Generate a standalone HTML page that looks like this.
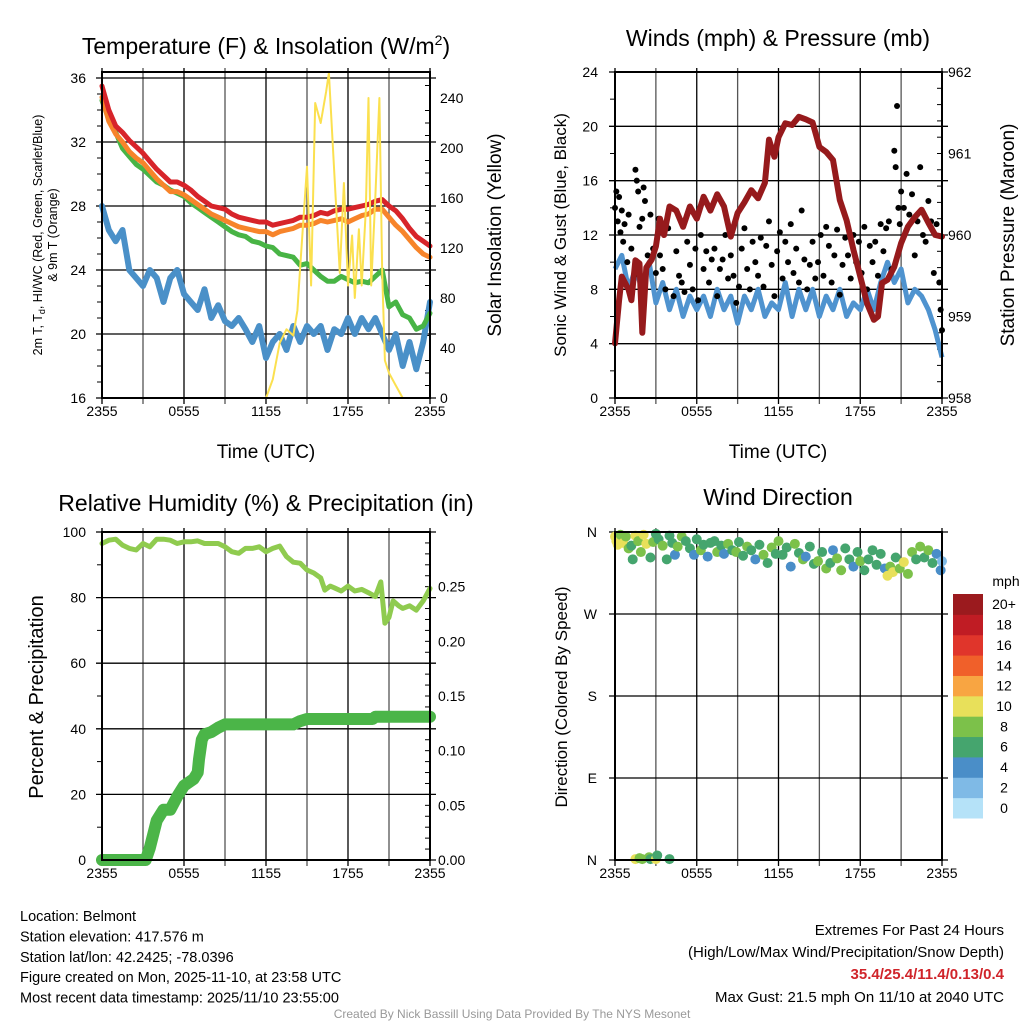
<!DOCTYPE html>
<html><head><meta charset="utf-8">
<style>
html,body{margin:0;padding:0;background:#fff;}
svg{display:block;font-family:"Liberation Sans",sans-serif;}
</style></head>
<body>
<svg id="chart" width="1024" height="1024" viewBox="0 0 1024 1024" xmlns="http://www.w3.org/2000/svg">
<rect x="0" y="0" width="1024" height="1024" fill="#fff"/>
</svg>
<script>
// ---------- DATA ----------
const tempHours = [0,0.5,1,1.5,2,2.5,3,3.5,4,4.5,5,5.5,6,6.5,7,7.5,8,8.5,9,9.5,10,10.5,11,11.5,12,12.5,13,13.5,14,14.5,15,15.5,16,16.5,17,17.5,18,18.5,19,19.5,20,20.5,21,21.5,22,22.5,23,23.5,24];
const tempRed = [35.5,34.0,33.0,32.6,32.1,31.7,31.3,30.8,30.3,29.9,29.5,29.5,29.3,29.0,28.6,28.3,28.0,27.9,27.8,27.5,27.3,27.2,27.1,27.0,27.0,26.8,26.9,27.0,27.1,27.3,27.3,27.4,27.6,27.5,27.7,27.8,27.8,27.9,28.0,28.1,28.3,28.4,28.0,27.7,27.2,26.6,26.1,25.8,25.5];
const tempOrange = [34.8,33.3,32.5,32.0,31.4,31.0,30.7,30.2,29.7,29.3,28.9,28.9,28.7,28.4,28.1,27.8,27.5,27.3,27.1,26.9,26.7,26.6,26.5,26.4,26.4,26.2,26.4,26.5,26.6,26.8,26.8,26.9,27.1,27.0,27.1,27.2,27.0,27.2,27.4,27.5,27.8,27.8,27.3,26.8,26.4,25.9,25.4,25.0,24.8];
const tempGreen = [34.6,33.4,32.6,31.6,31.1,30.6,30.3,29.9,29.5,29.3,29.0,28.8,28.6,28.2,27.9,27.6,27.3,27.0,26.7,26.4,26.2,26.1,25.8,25.7,25.5,25.4,25.0,24.9,24.8,24.3,24.4,24.0,23.6,23.3,23.3,23.6,23.4,23.2,23.3,23.2,23.6,24.0,21.7,22.0,21.2,21.0,20.3,20.5,21.3];
const tempBlue = [28.0,26.5,25.8,26.5,24.0,23.5,23.0,24.0,23.5,22.0,23.5,24.0,22.5,22.0,21.5,22.8,21.0,21.8,20.8,20.5,21.0,20.3,19.5,20.5,18.5,19.5,20.0,19.0,20.5,19.5,20.5,20.0,20.5,19.0,20.3,20.0,21.0,20.0,21.0,20.3,21.0,20.0,19.0,20.0,18.0,19.5,17.8,19.5,22.0];
const solarHours = [0,12,12.5,13,13.5,14,14.3,14.5,15,15.3,15.6,16,16.4,16.6,17,17.4,17.7,18,18.3,18.5,18.8,19,19.3,19.5,19.7,20,20.3,20.5,20.7,21,21.5,22,24];
const solarVals = [0,0,15,44,55,50,70,105,185,90,236,220,245,260,180,100,172,90,130,80,135,90,150,240,90,160,240,100,30,20,10,0,0];

const windHours = [0,0.5,1,1.5,2,2.5,3,3.5,4,4.5,5,5.5,6,6.5,7,7.5,8,8.5,9,9.5,10,10.5,11,11.5,12,12.5,13,13.5,14,14.5,15,15.5,16,16.5,17,17.5,18,18.5,19,19.5,20,20.5,21,21.5,22,22.5,23,23.5,24];
const windSpeed = [9.5,10.5,8,9.5,8,10,7,8.5,6.5,8,6,7.5,6.5,7.5,6,8,6.5,7.5,5.5,7.5,6.5,8,6,7,6.5,8.5,6,8,6.5,8,6,7.5,6.5,8,6,7,6.5,8,6.5,8.5,10,8.5,9.5,7,8,7.5,6.5,5,3];
const presHours = [0,0.3,0.5,1,1.2,1.5,1.8,2,2.3,2.7,3,3.3,3.6,4,4.5,5,5.5,6,6.5,7,7.5,8,8.5,9,9.5,10,10.5,11,11.3,11.7,12,12.5,13,13.5,14,14.5,15,15.5,16,16.5,17,17.5,18,18.5,19,19.3,19.6,20,20.5,21,21.5,22,22.5,23,23.5,24];
const presVals = [958.67,959.2,959.49,959.33,959.2,959.69,959.65,958.8,959.6,959.7,959.86,960.2,960.0,960.35,960.3,960.1,960.35,960.2,960.47,960.3,960.5,960.35,959.98,960.27,960.4,960.55,960.45,960.64,961.17,960.96,961.2,961.37,961.35,961.45,961.42,961.38,961.08,961.02,960.92,960.43,960.18,959.82,959.49,959.16,958.96,959.0,959.41,959.45,959.61,959.9,960.1,960.22,960.31,960.15,960.0,959.98];
const gustHours = [0.0,0.1,0.2,0.3,0.4,0.5,0.6,0.7,0.9,1.0,1.2,1.4,1.5,1.6,1.7,1.8,2.0,2.1,2.2,2.4,2.6,2.8,3.0,3.2,3.3,3.5,3.7,3.9,4.1,4.3,4.5,4.7,4.9,5.1,5.3,5.5,5.7,5.9,6.1,6.3,6.5,6.7,6.9,7.1,7.3,7.5,7.7,7.9,8.1,8.3,8.5,8.7,8.9,9.1,9.3,9.5,9.7,9.9,10.1,10.3,10.5,10.7,10.9,11.1,11.3,11.5,11.7,11.9,12.1,12.3,12.5,12.7,12.9,13.1,13.3,13.5,13.7,13.9,14.1,14.3,14.5,14.7,14.9,15.1,15.3,15.5,15.7,15.9,16.1,16.3,16.5,16.7,16.9,17.1,17.3,17.5,17.7,17.9,18.1,18.3,18.5,18.7,18.9,19.1,19.3,19.5,19.7,19.9,20.1,20.3,20.5,20.6,20.7,20.8,20.9,21.0,21.2,21.4,21.6,21.8,22.0,22.2,22.4,22.6,22.8,23.0,23.2,23.4,23.6,23.8,23.9,24.0];
const gustVals = [14.0,15.2,13.0,14.8,12.2,13.8,11.5,12.8,10.0,13.5,11.0,9.0,16.8,16.0,15.2,12.6,13.2,15.5,14.5,10.5,13.5,11.0,9.2,13.2,10.5,9.5,8.0,12.5,14.0,7.5,10.8,9.0,8.5,7.8,11.5,9.8,8.0,11.0,7.2,12.0,9.5,10.8,8.5,10.2,11.0,7.5,9.5,10.2,12.0,8.8,10.5,9.0,7.0,8.2,11.0,12.5,9.5,8.0,11.5,10.0,9.0,11.8,8.2,11.2,13.0,9.8,7.5,10.8,12.2,8.8,11.5,10.0,12.8,9.2,11.0,8.5,13.8,10.2,8.0,9.8,11.5,8.8,10.0,12.0,9.0,12.6,11.2,8.5,10.5,12.4,7.6,9.8,11.8,10.5,8.8,12.0,10.0,11.5,9.2,12.6,8.0,11.2,10.0,11.5,9.0,12.8,10.8,12.5,13.0,9.5,18.2,17.0,21.5,14.0,12.8,15.2,14.0,16.5,13.5,15.0,10.5,13.0,17.0,12.0,11.5,14.5,13.0,9.2,12.8,8.5,6.5,5.0];

const rhHours = [0,0.5,1,1.5,2,2.5,3,3.5,4,4.5,5,5.5,6,6.5,7,7.5,8,8.5,9,9.5,10,10.5,11,11.5,12,12.5,13,13.5,14,14.5,15,15.5,16,16.3,16.7,17,17.5,18,18.5,19,19.5,20,20.4,20.7,21,21.3,21.7,22,22.5,23,23.5,24];
const rhVals = [96.5,97.5,97.8,96,95,94.5,96.5,95.5,97.8,97.8,97.5,96.5,97,97,97.3,96.5,96.5,96.5,95.5,94,93.5,95,95,95.5,94,95,95.7,92.5,90.8,90.5,88.4,87.5,86,82.3,83.5,83,82,83.5,82,82.5,81.5,80.3,84.8,72.2,74,79,77.5,76.7,77.5,76.2,79,82.8];
const precipHours = [0,3.2,3.5,4,4.5,5,5.5,6,6.7,7,7.1,7.3,7.5,8,8.5,9,14,14.5,15,19.8,20,24];
const precipVals = [0,0,0.011,0.036,0.046,0.046,0.058,0.068,0.074,0.08,0.092,0.11,0.115,0.117,0.121,0.124,0.124,0.127,0.129,0.129,0.131,0.131];

const dirHours = [0.0,0.1,0.2,0.4,0.6,0.8,1.0,1.2,1.3,1.5,1.7,1.9,2.1,2.3,2.6,2.8,3.0,3.2,3.5,3.8,4.0,4.2,4.4,4.6,4.9,5.2,5.5,5.8,6.0,6.3,6.5,6.8,7.0,7.3,7.5,7.8,8.0,8.3,8.6,8.9,9.1,9.4,9.7,10.0,10.3,10.6,10.9,11.2,11.5,11.8,12.0,12.3,12.6,12.9,13.2,13.5,13.8,14.0,14.3,14.6,14.9,15.2,15.5,15.8,16.0,16.3,16.6,16.9,17.2,17.5,17.8,18.0,18.3,18.6,18.9,19.2,19.5,19.8,20.0,20.2,20.4,20.6,20.9,21.2,21.5,21.8,22.1,22.4,22.7,23.0,23.3,23.6,23.9,24.0,1.5,1.8,2.0,2.5,2.6,3.0,3.1,4.0];
const dirDeg = [355,350,346,357,348,355,342,345,330,356,350,338,357,347,332,349,358,352,345,330,356,348,335,344,355,350,342,335,352,340,346,333,348,350,338,345,336,347,340,338,349,334,344,340,330,346,335,326,343,336,350,335,343,322,347,337,330,333,344,325,328,338,320,326,340,331,318,342,330,322,338,328,318,330,340,324,336,320,312,322,316,332,320,327,314,338,330,344,332,340,326,336,318,328,1,2,1,3,1,1,5,1];
const dirSpeed = [10.5,10.2,10.8,8.5,10,8.2,8.5,6.5,7,10.5,8.5,8.3,10.2,10.4,6.5,8.5,6.5,7,8.5,6.5,7,6.5,4.5,8.5,8.2,6.5,7,4.2,6.5,8.5,6.5,4.5,6.8,7,8.2,6.5,5,8.5,6.5,8.3,6.5,6.8,8.5,6.5,5,6.5,8.5,6.5,8.5,6.7,8.5,6.5,7,4.5,8.5,6.5,8.2,4.5,6.5,6.5,8.5,6.5,8.5,6.5,4.5,8.3,8.5,6.5,6.5,4.5,6.5,8.5,6.5,6.5,6.5,6.5,6.5,4.5,10.5,8.5,10.2,6.5,8.5,10.5,8.5,8.5,6.5,8.5,6.5,8.2,6.5,4.5,4.2,3.5,10.5,8.5,8.2,8.5,6.5,10.5,6.5,6.5];

const xTickHours = [0,6,12,18,24];
const xTickLabels = ["2355","0555","1155","1755","2355"];
const tempTicks = [16,20,24,28,32,36];
const solarTicks = [0,40,80,120,160,200,240];
const windTicks = [0,4,8,12,16,20,24];
const presTicks = [958,959,960,961,962];
const rhTicks = [0,20,40,60,80,100];
const precipTicks = [0,0.05,0.10,0.15,0.20,0.25];
const dirTicks = [0,90,180,270,360];
const dirTickLabels = ["N","E","S","W","N"];
const cbarLabels = ["0","2","4","6","8","10","12","14","16","18","20+"];
const cbarColors = ["#b5e2f8","#7fbae6","#4a8ec8","#45a56e","#7cc14a","#e8e05a","#f8a542","#f0602a","#e0352b","#c01c24","#9b1a1e"];

// ---------- HELPERS ----------
const NS = "http://www.w3.org/2000/svg";
const svg = document.getElementById('chart');
function mk(tag, attrs, parent){
  const el = document.createElementNS(NS, tag);
  for (const k in attrs) el.setAttribute(k, attrs[k]);
  (parent || svg).appendChild(el);
  return el;
}
function txt(str, x, y, size, anchor, parent, extra){
  const el = mk('text', Object.assign({x:x, y:y, 'font-size':size, 'text-anchor':anchor||'middle', fill:'#000'}, extra||{}), parent);
  el.textContent = str;
  return el;
}
function lin(x0,x1,d0,d1){ return v => x0 + (v-d0)*(x1-x0)/(d1-d0); }
function pathFrom(xs, ys, fx, fy){
  let d = '';
  for (let i=0;i<xs.length;i++) d += (i?'L':'M') + fx(xs[i]).toFixed(1) + ' ' + fy(ys[i]).toFixed(1);
  return d;
}
function grid(g, L, R, T, B, xf, yPositions){
  for (let h=0; h<=24; h+=3){
    const x = xf(h);
    const el = mk('line',{x1:x,x2:x,y1:T-4,y2:B+6,stroke:(h%6===0)?'#000':'#555','stroke-width':1.3}, g);
    
    
  }
  yPositions.forEach(y=>{
    const el = mk('line',{x1:L-6,x2:R+6,y1:y,y2:y,stroke:'#000','stroke-width':1.3}, g);
    
    
  });
}
function frame(g, L, R, T, B){
  const el = mk('rect',{x:L,y:T,width:R-L,height:B-T,fill:'none',stroke:'#000','stroke-width':2}, g);
  
  
}
function xLabels(g, xf, y){
  xTickHours.forEach((h,i)=>{
    const t = txt(xTickLabels[i], xf(h), y, 14, 'middle', g);
    
    
  });
}

// ---------- PANEL 1: Temperature ----------
(function(){
  const L=102,R=430,T=72,B=398;
  const g = mk('g',{});
  
  
  const fx = lin(L,R,0,24), fy = lin(B,78,16,36), fs = lin(B,B-300,0,240);
  grid(g,L,R,T,B,fx,tempTicks.map(fy));
  for (let v=17; v<36; v++){ if (v%4){ const el=mk('line',{x1:L-5,x2:L,y1:fy(v),y2:fy(v),stroke:'#000','stroke-width':1},g);   } }
  for (let v=10; v<260; v+=10){ if (v%40){ const el=mk('line',{x1:R-5,x2:R,y1:fs(v),y2:fs(v),stroke:'#000','stroke-width':1},g);   } }
  const series = [[tempBlue,'#4a90c8',6,'dewpoint-line'],[tempGreen,'#48b445',5,'wind-chill-line'],[tempOrange,'#f7842a',5,'temperature-9m-line'],[tempRed,'#d7242a',5,'temperature-2m-line']];
  series.forEach(s=>{
    const p = mk('path',{d:pathFrom(tempHours,s[0],fx,fy),fill:'none',stroke:s[1],'stroke-width':s[2],'stroke-linejoin':'round','stroke-linecap':'round'},g);
    
    
  });
  const sp = mk('path',{d:pathFrom(solarHours,solarVals,fx,fs),fill:'none',stroke:'#fbe04f','stroke-width':2,'stroke-linejoin':'round'},g);
  
  
  frame(g,L,R,T,B);
  tempTicks.forEach(v=>{ const t=txt(String(v),86,fy(v)+5,14,'end',g);   });
  solarTicks.forEach(v=>{ const t=txt(String(v),440,fs(v)+5,14,'start',g);   });
  xLabels(g,fx,416);
  const title = mk('text',{x:266,y:54,'font-size':23,'text-anchor':'middle'},g);
  title.innerHTML = 'Temperature (F) &amp; Insolation (W/m<tspan dy="-9" font-size="14">2</tspan><tspan dy="9">)</tspan>';
  
  
  const xt = txt('Time (UTC)',266,458,19,'middle',g);
  
  
  const yl = mk('text',{x:0,y:0,'font-size':12.5,'text-anchor':'middle',transform:'translate(42,235) rotate(-90)'},g);
  yl.innerHTML = '2m T, T<tspan dy="3" font-size="9">d</tspan><tspan dy="-3">, HI/WC (Red, Green, Scarlet/Blue)</tspan>';
  
  
  const yl2 = txt('& 9m T (Orange)',0,0,12.5,'middle',g,{transform:'translate(57,235) rotate(-90)'});
  
  
  const yr = txt('Solar Insolation (Yellow)',0,0,19,'middle',g,{transform:'translate(501,235) rotate(-90)'});
  
  
})();

// ---------- PANEL 2: Winds ----------
(function(){
  const L=615,R=942,T=72,B=398;
  const g = mk('g',{});
  
  
  const fx = lin(L,R,0,24), fy = lin(B,T,0,24), fp = lin(B,T,958,962);
  grid(g,L,R,T,B,fx,windTicks.map(fy));
  for (let v=2; v<24; v+=4){ const el=mk('line',{x1:L-5,x2:L,y1:fy(v),y2:fy(v),stroke:'#000','stroke-width':1},g);   }
  for (let v=958.2; v<962; v+=0.2){ const el=mk('line',{x1:R-5,x2:R,y1:fp(v),y2:fp(v),stroke:'#000','stroke-width':1},g);   }
  const wp = mk('path',{d:pathFrom(windHours,windSpeed,fx,fy),fill:'none',stroke:'#4f93cf','stroke-width':5,'stroke-linejoin':'round'},g);
  
  
  gustHours.forEach((h,i)=>{
    const c = mk('circle',{cx:fx(h),cy:fy(gustVals[i]),r:3,fill:'#000'},g);
    
    
  });
  const pp = mk('path',{d:pathFrom(presHours,presVals,fx,fp),fill:'none',stroke:'#961a1c','stroke-width':6,'stroke-linejoin':'round','stroke-linecap':'round'},g);
  
  
  frame(g,L,R,T,B);
  windTicks.forEach(v=>{ const t=txt(String(v),598,fy(v)+5,14,'end',g);   });
  presTicks.forEach(v=>{ const t=txt(String(v),948,fp(v)+5,14,'start',g);   });
  xLabels(g,fx,416);
  const title = txt('Winds (mph) & Pressure (mb)',778,46,23,'middle',g);
  
  
  const xt = txt('Time (UTC)',778,458,19,'middle',g);
  
  
  const yl = txt('Sonic Wind & Gust (Blue, Black)',0,0,17,'middle',g,{transform:'translate(566,235) rotate(-90)'});
  
  
  const yr = txt('Station Pressure (Maroon)',0,0,19,'middle',g,{transform:'translate(1014,235) rotate(-90)'});
  
  
})();

// ---------- PANEL 3: RH & Precip ----------
(function(){
  const L=102,R=430,T=532,B=860;
  const g = mk('g',{});
  
  
  const fx = lin(L,R,0,24), fy = lin(B,T,0,100), fq = lin(B,T,0,0.3);
  grid(g,L,R,T,B,fx,rhTicks.map(fy));
  for (let v=10; v<100; v+=20){ const el=mk('line',{x1:L-5,x2:L,y1:fy(v),y2:fy(v),stroke:'#000','stroke-width':1},g);   }
  for (let v=0.01; v<0.3; v+=0.01){ const el=mk('line',{x1:R-5,x2:R,y1:fq(v),y2:fq(v),stroke:'#000','stroke-width':1},g);   }
  const rp = mk('path',{d:pathFrom(rhHours,rhVals,fx,fy),fill:'none',stroke:'#8fcb4f','stroke-width':5,'stroke-linejoin':'round','stroke-linecap':'round'},g);
  
  
  const qp = mk('path',{d:pathFrom(precipHours,precipVals,fx,fq),fill:'none',stroke:'#4bb548','stroke-width':12,'stroke-linejoin':'round','stroke-linecap':'round'},g);
  
  
  frame(g,L,R,T,B);
  rhTicks.forEach(v=>{ const t=txt(String(v),86,fy(v)+5,14,'end',g);   });
  precipTicks.forEach(v=>{ const t=txt(v.toFixed(2),438,fq(v)+5,14,'start',g);   });
  xLabels(g,fx,878);
  const title = txt('Relative Humidity (%) & Precipitation (in)',266,511,23,'middle',g);
  
  
  const yl = txt('Percent & Precipitation',0,0,20,'middle',g,{transform:'translate(43,697) rotate(-90)'});
  
  
})();

// ---------- PANEL 4: Wind Direction ----------
(function(){
  const L=615,R=942,T=532,B=860;
  const g = mk('g',{});
  
  
  const fx = lin(L,R,0,24), fy = lin(B,T,0,360);
  grid(g,L,R,T,B,fx,dirTicks.map(fy));
  dirHours.forEach((h,i)=>{
    const idx = Math.min(10, Math.floor(dirSpeed[i]/2));
    const c = mk('circle',{cx:fx(h),cy:fy(dirDeg[i]),r:5,fill:cbarColors[idx]},g);
    
    
  });
  frame(g,L,R,T,B);
  dirTicks.forEach((v,i)=>{ const t=txt(dirTickLabels[i],597,fy(v)+5,14,'end',g);   });
  xLabels(g,fx,878);
  const title = txt('Wind Direction',778,505,23,'middle',g);
  
  
  const yl = txt('Direction (Colored By Speed)',0,0,17,'middle',g,{transform:'translate(567,697) rotate(-90)'});
  
  
  const cb = mk('g',{},g);
  
  
  const cbT=594, cbB=818, bh=(cbB-cbT)/11;
  cbarColors.forEach((col,i)=>{
    const y = cbB - (i+1)*bh;
    const r = mk('rect',{x:953,y:y,width:30,height:bh+0.5,fill:col},cb);
    
    
    const t = txt(cbarLabels[i],1004,y+bh/2+5,14,'middle',cb);
    
    
  });
  const u = txt('mph',1006,586,14,'middle',cb);
  
  
})();

// ---------- FOOTER ----------
(function(){
  const g = mk('g',{});
  
  
  const lines = ["Location: Belmont","Station elevation: 417.576 m","Station lat/lon: 42.2425; -78.0396","Figure created on Mon, 2025-11-10, at 23:58 UTC","Most recent data timestamp: 2025/11/10 23:55:00"];
  lines.forEach((s,i)=>{ const t=txt(s,20,921+i*20.4,14.5,'start',g);   });
  const g2 = mk('g',{});
  
  
  const a = txt('Extremes For Past 24 Hours',1004,935,15,'end',g2);
  
  
  const b = txt('(High/Low/Max Wind/Precipitation/Snow Depth)',1004,957,15,'end',g2);
  
  
  const c = txt('35.4/25.4/11.4/0.13/0.4',1004,979,15,'end',g2,{fill:'#d0242a','font-weight':'bold'});
  
  
  const d = txt('Max Gust: 21.5 mph On 11/10 at 2040 UTC',1004,1002,15,'end',g2);
  
  
  const e = txt('Created By Nick Bassill Using Data Provided By The NYS Mesonet',512,1018,12,'middle',null,{fill:'#999'});
  
  
})();
</script>
</body></html>
